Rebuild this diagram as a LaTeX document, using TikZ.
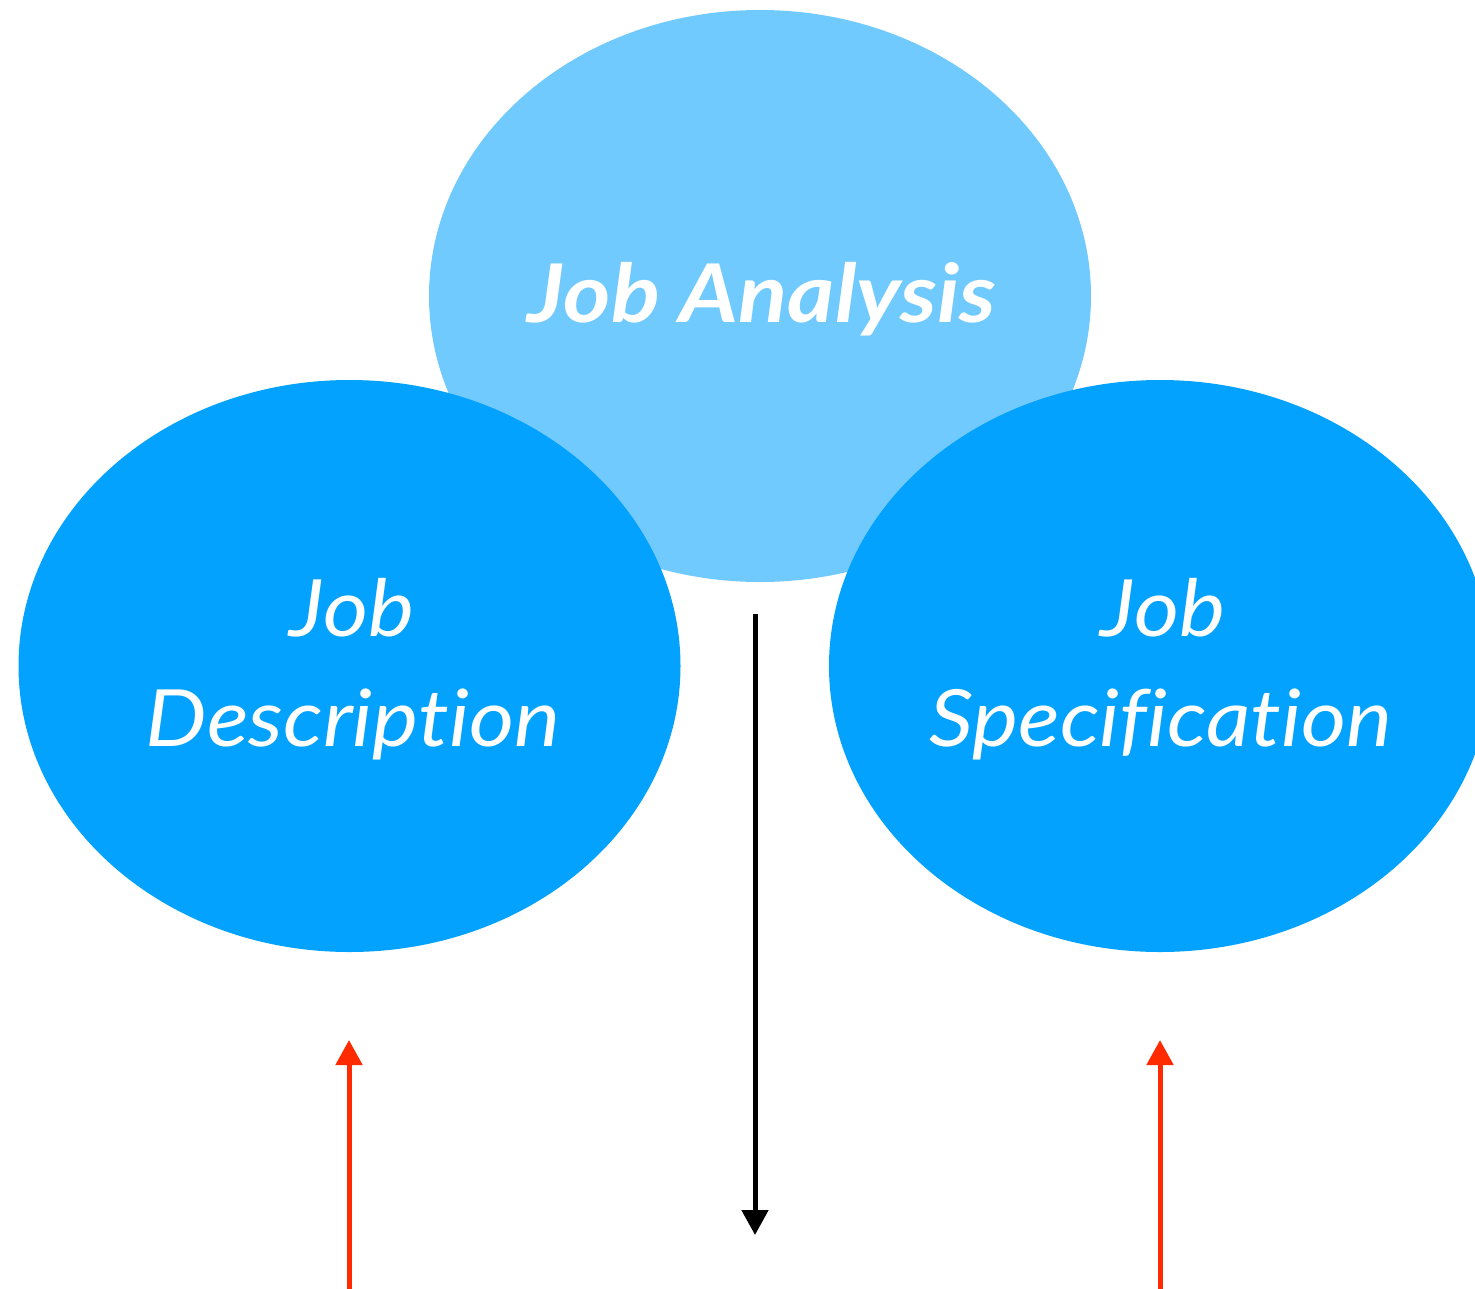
\documentclass[tikz,border=0pt]{standalone}
\usepackage{fontspec}
\setmainfont{Lato}[Ligatures=NoCommon]
\newfontfamily\lblfont{Lato}[Ligatures=NoCommon, FakeStretch=1.1]
\newfontfamily\titlefont{Lato}[Ligatures=NoCommon, FakeStretch=1.12]
\usetikzlibrary{shapes.geometric,arrows.meta}
\definecolor{toplight}{HTML}{71CAFE}
\definecolor{sideblue}{HTML}{02A2FE}
\definecolor{arrowred}{HTML}{FF2A00}
\tikzset{
  blob/.style={ellipse, minimum width=662pt, minimum height=572pt, inner sep=0pt, text=white, align=center},
  lbl/.style={text=white, align=center, font=\lblfont\fontsize{79}{110}\selectfont\itshape, inner sep=0pt},
  blackarrow/.style={line width=5pt, -{Triangle[width=26pt,length=25pt]}, black},
  redarrow/.style={line width=5pt, -{Triangle[width=26pt,length=25pt]}, arrowred},
}
\begin{document}
\begin{tikzpicture}[x=1pt,y=-1pt]
\useasboundingbox (0,0) rectangle (1475,1288);
\clip (0,0) rectangle (1475,1288);
\node[blob, fill=toplight] (ja) at (760,296) {};
\node[blob, fill=sideblue] (jd) at (349.5,666) {};
\node[blob, fill=sideblue] (js) at (1160,666) {};
\node[lbl, font=\titlefont\fontsize{81}{110}\selectfont\bfseries\itshape, anchor=base] (tja) at (762,322) {Job Analysis};
\node[lbl, anchor=base] (tjd1) at (352,636) {Job};
\node[lbl, anchor=base] (tjd2) at (353,746) {Description};
\node[lbl, anchor=base] (tjs1) at (1163,636) {Job};
\node[lbl, anchor=base] (tjs2) at (1161,746) {Specification};
\coordinate (b0) at (755,614);
\coordinate (b1) at (755,1235);
\draw[blackarrow] (b0) -- (b1);
\coordinate (l0) at (349,1290);
\coordinate (l1) at (349,1040);
\draw[redarrow] (l0) -- (l1);
\coordinate (r0) at (1160,1290);
\coordinate (r1) at (1160,1040);
\draw[redarrow] (r0) -- (r1);
\end{tikzpicture}
\end{document}
